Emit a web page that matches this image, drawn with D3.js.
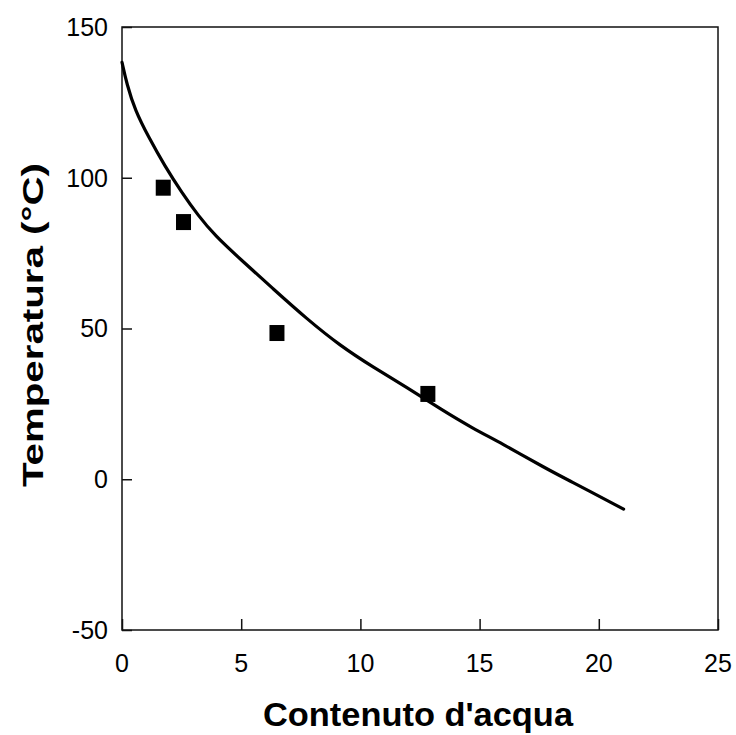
<!DOCTYPE html>
<html>
<head>
<meta charset="utf-8">
<script src="https://cdn.jsdelivr.net/npm/d3@7"></script>
<style>
  body { margin: 0; background: #fff; }
  svg text { font-family: "Liberation Sans", Arial, sans-serif; fill: #000; }
</style>
</head>
<body>
<div id="vis-container"></div>
<script>
// chart size and plot frame
const width = 736;
const height = 735;
const margin = {left: 122, right: 18, top: 27, bottom: 105};

// measured points (squares)
const pointX = [1.73, 2.58, 6.5, 12.83];
const pointY = [96.7, 85.3, 48.5, 28.3];

// fitted curve
const curveX = [0, 0.2, 0.55, 1.1, 1.8, 2.5, 3.2, 3.9, 4.95, 6.35, 7.75, 9.15, 10.55, 11.95, 13.35, 14.75, 15.86, 17.82, 18.64, 21.04];
const curveY = [138.3, 131.1, 122.3, 113.7, 103.8, 95.2, 87.4, 80.8, 73.1, 63.1, 53.2, 44.3, 37.1, 30.5, 23.3, 16.7, 12.2, 3.4, 0.07, -9.9];

// axis ticks
const xTicks = [0, 5, 10, 15, 20, 25];
const yTicks = [-50, 0, 50, 100, 150];

const svg = d3.select("#vis-container")
  .append("svg")
  .attr("width", width)
  .attr("height", height);

let xScale = d3.scaleLinear()
  .domain([0, 25])
  .range([margin.left, width - margin.right]);

let yScale = d3.scaleLinear()
  .domain([-50, 150])
  .range([height - margin.bottom, margin.top]);

// frame
svg.append("rect")
  .attr("x", xScale(0))
  .attr("y", yScale(150))
  .attr("width", xScale(25) - xScale(0))
  .attr("height", yScale(-50) - yScale(150))
  .attr("fill", "none")
  .attr("stroke", "#111")
  .attr("stroke-width", 1.5);

// y axis, ticks pointing inside
svg.append("g")
  .attr("transform", `translate(${xScale(0)}, 0)`)
  .call(d3.axisRight(yScale).tickValues(yTicks).tickSize(10).tickFormat(d => ""))
  .call(g => g.select(".domain").remove())
  .call(g => g.selectAll("line").attr("stroke", "#111").attr("stroke-width", 1.5));

svg.append("g")
  .selectAll("text")
  .data(yTicks)
  .join("text")
  .attr("x", xScale(0) - 14)
  .attr("y", d => yScale(d))
  .attr("dy", "0.35em")
  .attr("text-anchor", "end")
  .attr("font-size", "25px")
  .text(d => d);

// x axis, ticks pointing up
svg.append("g")
  .attr("transform", `translate(0, ${yScale(-50)})`)
  .call(d3.axisTop(xScale).tickValues(xTicks).tickSize(11).tickFormat(d => ""))
  .call(g => g.select(".domain").remove())
  .call(g => g.selectAll("line").attr("stroke", "#111").attr("stroke-width", 1.5));

svg.append("g")
  .selectAll("text")
  .data(xTicks)
  .join("text")
  .attr("x", d => xScale(d))
  .attr("y", 672)
  .attr("text-anchor", "middle")
  .attr("font-size", "25px")
  .text(d => d);

// axis titles
svg.append("text")
  .attr("x", 418)
  .attr("y", 726)
  .attr("text-anchor", "middle")
  .attr("font-size", "33px")
  .attr("font-weight", "bold")
  .attr("textLength", 310)
  .attr("lengthAdjust", "spacingAndGlyphs")
  .text("Contenuto d'acqua");

svg.append("text")
  .attr("transform", "translate(43, 325) rotate(-90)")
  .attr("text-anchor", "middle")
  .attr("font-size", "30px")
  .attr("font-weight", "bold")
  .attr("textLength", 324)
  .attr("lengthAdjust", "spacingAndGlyphs")
  .text("Temperatura (°C)");

// curve
const curveData = curveX.map((x, i) => ({x: x, y: curveY[i]}));
let line = d3.line()
  .x(d => xScale(d.x))
  .y(d => yScale(d.y))
  .curve(d3.curveBasis);

svg.append("path")
  .datum(curveData)
  .attr("fill", "none")
  .attr("stroke", "#000")
  .attr("stroke-width", 3.2)
  .attr("stroke-linecap", "round")
  .attr("d", line);

// squares
const pts = pointX.map((x, i) => ({x: x, y: pointY[i]}));
svg.selectAll(".pt")
  .data(pts)
  .join("rect")
  .attr("class", "pt")
  .attr("x", d => xScale(d.x) - 7.5)
  .attr("y", d => yScale(d.y) - 8)
  .attr("width", 15)
  .attr("height", 16)
  .attr("fill", "#000");
</script>
</body>
</html>
